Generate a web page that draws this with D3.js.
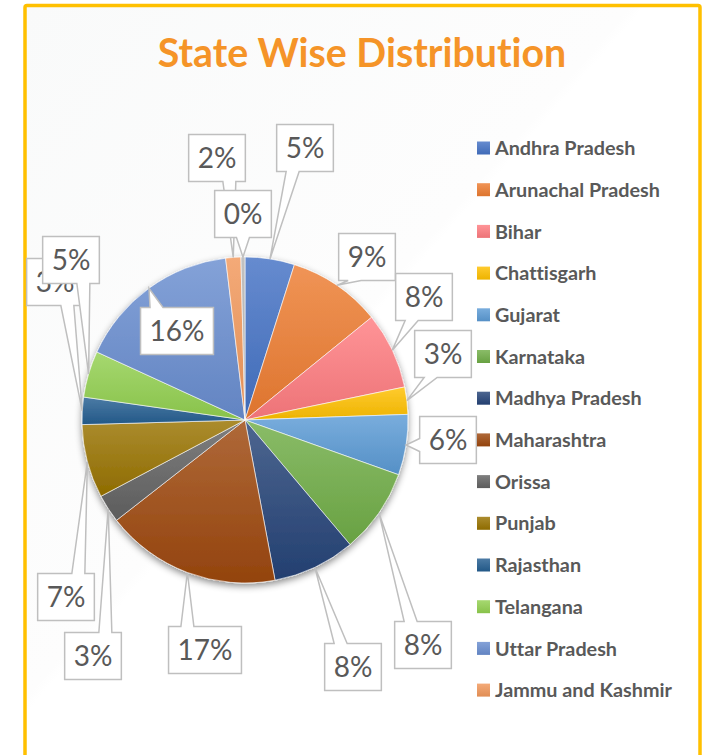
<!DOCTYPE html>
<html>
<head>
<meta charset="UTF-8">
<script src="https://cdn.jsdelivr.net/npm/d3@7"></script>
<style>
  body { margin: 0; background: #fff; }
  #container { width: 711px; height: 755px; }
  svg text { font-variant-ligatures: none; }
</style>
</head>
<body>
<div id="container"></div>
<script>
// values (share in %, clockwise from 12 o'clock)
const states = ["Andhra Pradesh", "Arunachal Pradesh", "Bihar", "Chattisgarh", "Gujarat",
  "Karnataka", "Madhya Pradesh", "Maharashtra", "Orissa", "Punjab", "Rajasthan",
  "Telangana", "Uttar Pradesh", "Jammu and Kashmir", "Others"];
const shares = [4.9, 9.25, 7.6, 2.7, 6.0, 8.4, 8.2, 17.4, 2.8, 7.3, 2.7, 4.6, 16.25, 1.5, 0.4];
const colors = ["#4472C4", "#ED7D31", "#FF7C80", "#FFC000", "#5B9BD5", "#70AD47", "#264478",
  "#9E480E", "#636363", "#997300", "#255E91", "#92D050", "#698ED0", "#F1975A", "#B4B4B4"];
// only 14 entries fit in the legend box
const legendCount = 14;

// where the callout boxes were dragged to (box centres)
const labelX = [305, 367, 424, 443, 448, 423, 353, 205, 93, 66, 55, 71, 177, 217, 243];
const labelY = [148, 257, 297, 354, 440, 645, 667, 650, 656, 597, 282, 260, 331, 158, 214];

const width = 711, height = 755;
const cx = 245, cy = 420, r = 163;

const svg = d3.select("#container").append("svg")
  .attr("width", width)
  .attr("height", height)
  .style("font-family", "Lato, 'Open Sans', sans-serif");

const defs = svg.append("defs");

// very faint diagonal background
const bg = defs.append("linearGradient").attr("id", "bg")
  .attr("x1", 0).attr("y1", 0).attr("x2", 1).attr("y2", 1);
bg.append("stop").attr("offset", 0).attr("stop-color", "#f9fafa");
bg.append("stop").attr("offset", 0.45).attr("stop-color", "#fdfdfd");
bg.append("stop").attr("offset", 0.46).attr("stop-color", "#ffffff");
bg.append("stop").attr("offset", 1).attr("stop-color", "#ffffff");

svg.append("rect")
  .attr("x", 25).attr("y", 5.5)
  .attr("width", 675).attr("height", 770)
  .attr("rx", 2)
  .attr("fill", "url(#bg)")
  .attr("stroke", "#FFC000")
  .attr("stroke-width", 3.5);

// slice gradients (lighter top, darker bottom)
colors.forEach((c, i) => {
  const g = defs.append("linearGradient").attr("id", "grad" + i)
    .attr("x1", 0).attr("y1", 0).attr("x2", 0).attr("y2", 1);
  g.append("stop").attr("offset", 0).attr("stop-color", d3.interpolateRgb(c, "#fff")(0.18));
  g.append("stop").attr("offset", 1).attr("stop-color", d3.color(c).darker(0.2));
});

const shadow = defs.append("filter").attr("id", "shadow")
  .attr("x", "-20%").attr("y", "-20%").attr("width", "140%").attr("height", "140%");
shadow.append("feDropShadow")
  .attr("dx", 0).attr("dy", 3)
  .attr("stdDeviation", 3.5)
  .attr("flood-color", "#000")
  .attr("flood-opacity", 0.45);

// title
svg.append("text")
  .attr("x", 362).attr("y", 67)
  .attr("text-anchor", "middle")
  .attr("fill", "#F59428")
  .style("font-size", "39.3px")
  .style("font-weight", "bold")
  .text("State Wise Distribution");

// pie
const pie = d3.pie().sort(null).value(d => d);
const arcs = pie(shares);
const arc = d3.arc().innerRadius(0).outerRadius(r);

const gPie = svg.append("g")
  .attr("transform", `translate(${cx},${cy})`)
  .attr("filter", "url(#shadow)");

gPie.selectAll("path")
  .data(arcs)
  .enter()
  .append("path")
  .attr("d", arc)
  .attr("fill", (d, i) => `url(#grad${i})`)
  .attr("stroke", "#fff")
  .attr("stroke-width", 0.6);

// callout labels
const total = d3.sum(shares);
const boxH = 47, hw = 6.5, edge = 16;

function callout(x0, y0, x1, y1, ax, ay) {
  const clamp = (v, a, b) => Math.max(a, Math.min(b, v));
  if (ay > y1) {
    const b = clamp(ax, x0 + edge, x1 - edge);
    return `M${x0},${y0}H${x1}V${y1}H${b + hw}L${ax},${ay}L${b - hw},${y1}H${x0}Z`;
  }
  if (ay < y0) {
    const b = clamp(ax, x0 + edge, x1 - edge);
    return `M${x0},${y0}H${b - hw}L${ax},${ay}L${b + hw},${y0}H${x1}V${y1}H${x0}Z`;
  }
  const b = clamp(ay, y0 + edge, y1 - edge);
  if (ax < x0) {
    return `M${x0},${y0}H${x1}V${y1}H${x0}V${b + hw}L${ax},${ay}L${x0},${b - hw}Z`;
  }
  return `M${x0},${y0}H${x1}V${b - hw}L${ax},${ay}L${x1},${b + hw}V${y1}H${x0}Z`;
}

const gLab = svg.append("g");
arcs.forEach((d, i) => {
  const g = gLab.append("g");
  const box = g.append("path");
  const t = g.append("text")
    .attr("x", labelX[i]).attr("y", labelY[i])
    .attr("dy", "0.36em")
    .attr("text-anchor", "middle")
    .attr("fill", "#595959")
    .style("font-size", "28px")
    .text(Math.round(d.value / total * 100) + "%");
  const w = t.node().getComputedTextLength() + 18;
  const a = (d.startAngle + d.endAngle) / 2;
  const p = d3.pointRadial(a, r);
  box.attr("d", callout(labelX[i] - w / 2, labelY[i] - boxH / 2,
                        labelX[i] + w / 2, labelY[i] + boxH / 2,
                        cx + p[0], cy + p[1]))
    .attr("fill", "#fff")
    .attr("stroke", "#BFBFBF")
    .attr("stroke-width", 1.5);
});

// legend
const legend = svg.append("g").attr("transform", "translate(477,148)");
const rows = legend.selectAll("g")
  .data(states.slice(0, legendCount))
  .enter()
  .append("g")
  .attr("transform", (d, i) => `translate(0,${i * 41.7})`);
rows.append("rect")
  .attr("x", 0).attr("y", -6.5)
  .attr("width", 13).attr("height", 13)
  .attr("fill", (d, i) => `url(#grad${i})`);
rows.append("text")
  .attr("x", 18)
  .attr("dy", "0.36em")
  .attr("fill", "#595959")
  .style("font-size", "19.8px")
  .style("font-weight", "bold")
  .text(d => d);
</script>
</body>
</html>
